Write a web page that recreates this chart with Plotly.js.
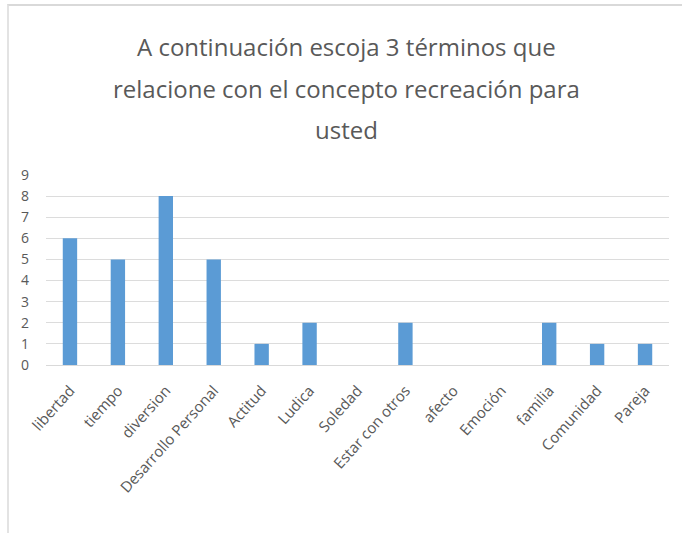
<!DOCTYPE html>
<html>
<head>
<meta charset="utf-8">
<script src="https://cdn.plot.ly/plotly-3.0.1.min.js"></script>
<style>
  html, body { margin: 0; padding: 0; background: #fff; }
  #wrap { position: relative; width: 682px; height: 533px; overflow: hidden; }
  #frame { position: absolute; left: 7px; top: 4px; width: 700px; height: 600px;
           border-top: 2px solid #d9d9d9; border-left: 2px solid #e3e3e3; pointer-events: none; }
  #chart { position: absolute; left: 0; top: 0; width: 682px; height: 533px; }
</style>
</head>
<body>
<div id="wrap">
  <div id="chart"></div>
  <div id="frame"></div>
</div>
<script>
const categories = ["libertad", "tiempo", "diversion", "Desarrollo Personal", "Actitud", "Ludica",
                    "Soledad", "Estar con otros", "afecto", "Emoción", "familia", "Comunidad", "Pareja"];
const counts = [6, 5, 8, 5, 1, 2, 0, 2, 0, 0, 2, 1, 1];
const titleLines = ["A continuación escoja 3 términos que",
                    "relacione con el concepto recreación para",
                    "usted"];
const yTicks = [0, 1, 2, 3, 4, 5, 6, 7, 8, 9];

const textColor = "#595959";
const fontFam = "'Open Sans', 'Noto Sans', sans-serif";

const titleY = [1.674, 1.455, 1.24];
const annotations = titleLines.map((t, i) => ({
  text: t, xref: "paper", yref: "paper", x: 0.483, y: titleY[i],
  xanchor: "center", yanchor: "middle", showarrow: false,
  font: { family: fontFam, size: 24, color: textColor }
}));

const data = [{
  type: "bar",
  x: categories,
  y: counts,
  marker: { color: "#5B9BD5" },
  hoverinfo: "x+y"
}];

const layout = {
  width: 682, height: 533,
  margin: { l: 46, r: 13, t: 175, b: 168 },
  paper_bgcolor: "#ffffff", plot_bgcolor: "#ffffff",
  showlegend: false,
  bargap: 0.7,
  annotations: annotations,
  xaxis: {
    type: "category",
    tickangle: -48,
    tickfont: { family: fontFam, size: 15, color: textColor },
    showgrid: false,
    showline: true, linecolor: "#d9d9d9", linewidth: 1,
    ticks: "", zeroline: false,
    ticklabelstandoff: 10,
    automargin: false
  },
  yaxis: {
    range: [0, 9],
    tickvals: yTicks,
    ticktext: yTicks.map(String),
    tickfont: { family: fontFam, size: 14, color: textColor },
    showgrid: true, gridcolor: "#dcdcdc", gridwidth: 1,
    zeroline: false, showline: false, ticks: "",
    ticklabelstandoff: 16,
    automargin: false
  }
};

Plotly.newPlot("chart", data, layout, { displayModeBar: false, staticPlot: true });
</script>
</body>
</html>
